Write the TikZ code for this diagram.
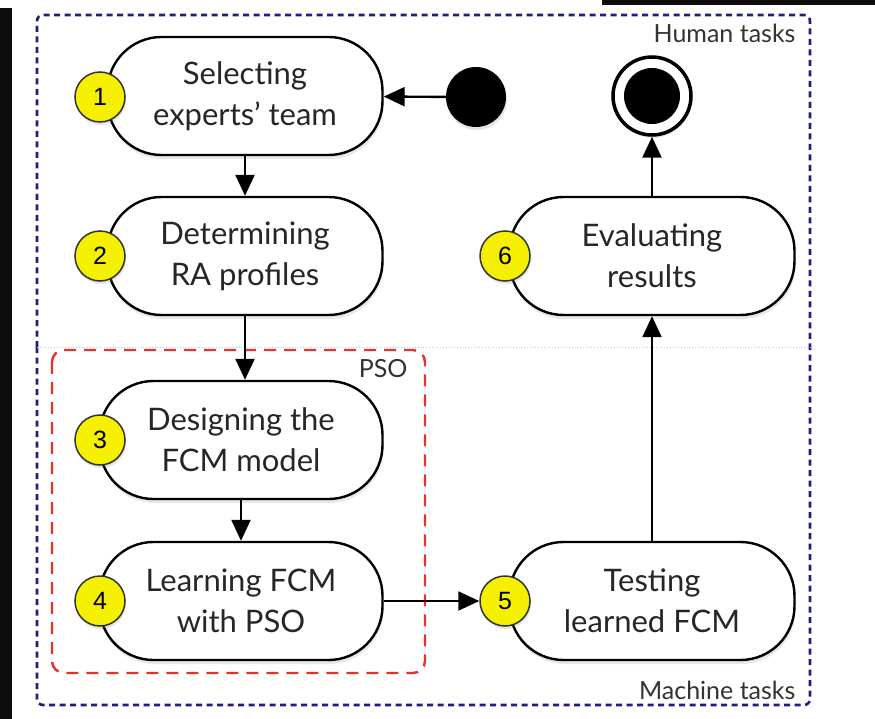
\documentclass[tikz,border=0pt]{standalone}
\usepackage{fontspec}
\setmainfont{Lato}
\newfontfamily\numfont{Liberation Sans}
\usetikzlibrary{arrows.meta,shadows}

\definecolor{taskblue}{RGB}{30,30,130}
\definecolor{psored}{RGB}{232,50,40}
\definecolor{badge}{RGB}{245,240,0}

\tikzset{
  stepbox/.style={draw=black, line width=2.4pt, fill=white, rounded corners=54pt,
    minimum width=275pt, minimum height=118pt, align=center,
    font=\fontsize{31}{41}\selectfont, text=black!85,
    drop shadow={opacity=0.18, shadow xshift=1pt, shadow yshift=-4pt}},
  numbadge/.style={circle, draw=black!80, line width=1.5pt, fill=badge,
    minimum size=50pt, inner sep=0pt, font=\numfont\fontsize{25}{25}\selectfont,
    drop shadow={opacity=0.2, shadow xshift=1pt, shadow yshift=-3pt}},
  flow/.style={draw=black, line width=2.4pt, -{Triangle[length=21pt,width=19pt]}},
  lanebox/.style={draw=taskblue, line width=2.6pt, dash pattern=on 6pt off 4.5pt, rounded corners=6pt},
  psobox/.style={draw=psored, line width=2.4pt, dash pattern=on 12pt off 8pt, rounded corners=12pt},
  lanelabel/.style={font=\fontsize{25}{25}\selectfont, text=black!80},
}

\begin{document}
\begin{tikzpicture}[x=1pt,y=-1pt]
  \useasboundingbox (0,0) rectangle (875,719);
  \fill[white] (0,0) rectangle (875,719);
  % black edge strips
  \fill[black!95] (0,8) rectangle (12,719);
  \fill[black!95] (602,0) rectangle (875,5);

  % swim lanes
  \draw[lanebox] (37,347) -- (37,15) -- (810,15) -- (810,347);
  \draw[lanebox] (37,347) -- (37,705) -- (810,705) -- (810,347);
  \draw[blue!25, line width=0.8pt, dotted] (37,347) -- (810,347);
  \node[lanelabel, anchor=east] (human) at (799,33) {Human tasks};
  \node[lanelabel, anchor=east] (machine) at (799,690) {Machine tasks};

  % PSO group
  \draw[psobox] (52,350) rectangle (425,673);
  \node[lanelabel, anchor=east] (psolabel) at (411,369) {PSO};

  % activities
  \node[stepbox] (s1) at (245,96) {Selecting\\experts’ team};
  \node[stepbox] (s2) at (245,256) {Determining\\RA profiles};
  \node[stepbox, minimum width=283pt] (s3) at (241,440) {Designing the\\FCM model};
  \node[stepbox, minimum width=283pt] (s4) at (241,601) {Learning FCM\\with PSO};
  \node[stepbox, minimum width=285pt] (s5) at (652,601) {Testing\\learned FCM};
  \node[stepbox, minimum width=285pt] (s6) at (652,256) {Evaluating\\results};

  % initial and final states
  \node[circle, fill=black, minimum size=60pt, inner sep=0pt,
    drop shadow={opacity=0.2, shadow xshift=1pt, shadow yshift=-3pt}] (start) at (476,97) {};
  \node[circle, draw=black, line width=3.5pt, fill=white, minimum size=78pt, inner sep=0pt,
    drop shadow={opacity=0.2, shadow xshift=1pt, shadow yshift=-3pt}] (finish) at (652,96) {};
  \node[circle, fill=black, minimum size=56pt, inner sep=0pt] (finishdot) at (finish) {};

  % numbered badges
  \node[numbadge] (n1) at (100,97) {1};
  \node[numbadge] (n2) at (100,256) {2};
  \node[numbadge] (n3) at (100,440) {3};
  \node[numbadge] (n4) at (100,601) {4};
  \node[numbadge] (n5) at (505,601) {5};
  \node[numbadge] (n6) at (505,256) {6};

  % control flow
  \draw[flow] (start) -- (s1);
  \draw[flow] (s1) -- (s2);
  \draw[flow] (s2.south) -- (s3.north -| s2.south);
  \draw[flow] (s3) -- (s4);
  \draw[flow] (s4) -- (n5);
  \draw[flow] (s5) -- (s6);
  \draw[flow] (s6) -- (finish);
\end{tikzpicture}
\end{document}
